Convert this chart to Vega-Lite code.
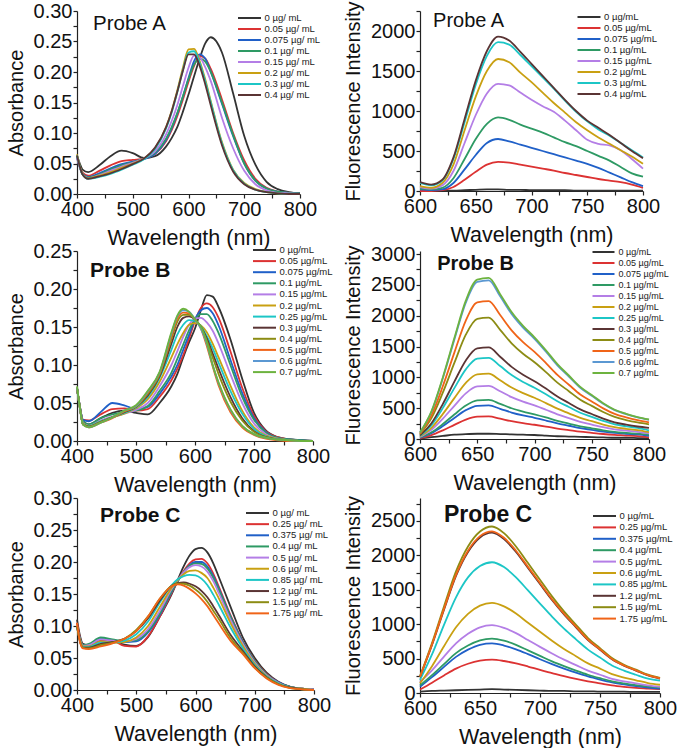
{
"$schema":"https://vega.github.io/schema/vega-lite/v6.json",
"background":"white",
"padding":{"left":6,"top":0,"right":0,"bottom":0},
"config":{
 "font":"Liberation Sans",
 "view":{"stroke":null},
 "axis":{"grid":false,"domainColor":"#222","tickColor":"#222","labelColor":"#111","titleColor":"#111","labelFontSize":20,"titleFontSize":21.5,"titleFontWeight":"normal","tickSize":4,"labelPadding":1,"domainWidth":1.2,"tickWidth":1.2,"labelFlush":false,"labelOverlap":false,"titlePadding":8},
 "axisY":{"titleFontSize":20,"titlePadding":7},
 "legend":{"symbolSize":100,"symbolStrokeWidth":2,"labelOffset":9,"labelFontSize":9.5,"labelColor":"#222","padding":0,"labelLimit":200}
},
"datasets":{
"aA":[
{"x":400,"s0":0.063,"s1":0.06,"s2":0.06,"s3":0.062,"s4":0.06,"s5":0.065,"s6":0.063,"s7":0.063},
{"x":405,"s0":0.05,"s1":0.045,"s2":0.044,"s3":0.045,"s4":0.044,"s5":0.046,"s6":0.045,"s7":0.045},
{"x":410,"s0":0.04,"s1":0.035,"s2":0.033,"s3":0.032,"s4":0.032,"s5":0.033,"s6":0.032,"s7":0.032},
{"x":420,"s0":0.036,"s1":0.03,"s2":0.028,"s3":0.027,"s4":0.026,"s5":0.026,"s6":0.025,"s7":0.025},
{"x":440,"s0":0.047,"s1":0.038,"s2":0.034,"s3":0.032,"s4":0.031,"s5":0.03,"s6":0.028,"s7":0.029},
{"x":460,"s0":0.062,"s1":0.047,"s2":0.042,"s3":0.04,"s4":0.038,"s5":0.036,"s6":0.033,"s7":0.034},
{"x":480,"s0":0.071,"s1":0.054,"s2":0.049,"s3":0.047,"s4":0.045,"s5":0.043,"s6":0.04,"s7":0.041},
{"x":500,"s0":0.067,"s1":0.056,"s2":0.053,"s3":0.052,"s4":0.051,"s5":0.05,"s6":0.048,"s7":0.049},
{"x":520,"s0":0.059,"s1":0.058,"s2":0.057,"s3":0.058,"s4":0.058,"s5":0.058,"s6":0.057,"s7":0.058},
{"x":540,"s0":0.062,"s1":0.066,"s2":0.066,"s3":0.068,"s4":0.07,"s5":0.075,"s6":0.074,"s7":0.076},
{"x":560,"s0":0.078,"s1":0.087,"s2":0.089,"s3":0.091,"s4":0.098,"s5":0.11,"s6":0.108,"s7":0.11},
{"x":570,"s0":0.092,"s1":0.105,"s2":0.108,"s3":0.11,"s4":0.12,"s5":0.137,"s6":0.134,"s7":0.136},
{"x":580,"s0":0.11,"s1":0.128,"s2":0.132,"s3":0.133,"s4":0.146,"s5":0.17,"s6":0.167,"s7":0.168},
{"x":590,"s0":0.135,"s1":0.155,"s2":0.16,"s3":0.16,"s4":0.177,"s5":0.207,"s6":0.203,"s7":0.202},
{"x":600,"s0":0.163,"s1":0.184,"s2":0.19,"s3":0.188,"s4":0.207,"s5":0.237,"s6":0.232,"s7":0.229},
{"x":610,"s0":0.193,"s1":0.21,"s2":0.218,"s3":0.212,"s4":0.227,"s5":0.238,"s6":0.234,"s7":0.229},
{"x":620,"s0":0.222,"s1":0.226,"s2":0.229,"s3":0.222,"s4":0.224,"s5":0.218,"s6":0.215,"s7":0.21},
{"x":630,"s0":0.247,"s1":0.222,"s2":0.222,"s3":0.217,"s4":0.208,"s5":0.188,"s6":0.185,"s7":0.18},
{"x":640,"s0":0.257,"s1":0.205,"s2":0.2,"s3":0.2,"s4":0.185,"s5":0.152,"s6":0.15,"s7":0.145},
{"x":660,"s0":0.232,"s1":0.155,"s2":0.148,"s3":0.15,"s4":0.125,"s5":0.085,"s6":0.083,"s7":0.08},
{"x":680,"s0":0.165,"s1":0.1,"s2":0.095,"s3":0.097,"s4":0.075,"s5":0.04,"s6":0.039,"s7":0.037},
{"x":700,"s0":0.095,"s1":0.055,"s2":0.05,"s3":0.05,"s4":0.038,"s5":0.018,"s6":0.017,"s7":0.016},
{"x":720,"s0":0.048,"s1":0.025,"s2":0.022,"s3":0.022,"s4":0.016,"s5":0.008,"s6":0.007,"s7":0.007},
{"x":740,"s0":0.02,"s1":0.01,"s2":0.009,"s3":0.009,"s4":0.006,"s5":0.003,"s6":0.003,"s7":0.003},
{"x":760,"s0":0.008,"s1":0.004,"s2":0.004,"s3":0.004,"s4":0.002,"s5":0.001,"s6":0.001,"s7":0.001},
{"x":780,"s0":0.003,"s1":0.002,"s2":0.002,"s3":0.002,"s4":0.001,"s5":0,"s6":0,"s7":0},
{"x":800,"s0":0.001,"s1":0.001,"s2":0.001,"s3":0.001,"s4":0,"s5":0,"s6":0,"s7":0}
],
"fA":[
{"x":600,"s0":20,"s1":0,"s2":20,"s3":30,"s4":50,"s5":60,"s6":100,"s7":110},
{"x":610,"s0":10,"s1":0,"s2":10,"s3":20,"s4":30,"s5":40,"s6":70,"s7":80},
{"x":620,"s0":5,"s1":10,"s2":20,"s3":40,"s4":70,"s5":100,"s6":130,"s7":140},
{"x":630,"s0":5,"s1":50,"s2":100,"s3":160,"s4":250,"s5":330,"s6":400,"s7":420},
{"x":640,"s0":10,"s1":140,"s2":270,"s3":400,"s4":600,"s5":760,"s6":860,"s7":900},
{"x":650,"s0":15,"s1":240,"s2":450,"s3":650,"s4":950,"s5":1180,"s6":1330,"s7":1380},
{"x":660,"s0":20,"s1":330,"s2":600,"s3":840,"s4":1220,"s5":1500,"s6":1690,"s7":1750},
{"x":670,"s0":20,"s1":365,"s2":650,"s3":920,"s4":1340,"s5":1650,"s6":1860,"s7":1930},
{"x":680,"s0":15,"s1":355,"s2":620,"s3":890,"s4":1320,"s5":1610,"s6":1830,"s7":1880},
{"x":690,"s0":15,"s1":330,"s2":580,"s3":830,"s4":1230,"s5":1480,"s6":1700,"s7":1740},
{"x":700,"s0":10,"s1":305,"s2":540,"s3":780,"s4":1140,"s5":1360,"s6":1560,"s7":1590},
{"x":710,"s0":10,"s1":280,"s2":500,"s3":730,"s4":1060,"s5":1230,"s6":1420,"s7":1440},
{"x":720,"s0":10,"s1":255,"s2":460,"s3":670,"s4":990,"s5":1100,"s6":1280,"s7":1290},
{"x":730,"s0":10,"s1":225,"s2":420,"s3":610,"s4":880,"s5":980,"s6":1130,"s7":1140},
{"x":740,"s0":5,"s1":200,"s2":380,"s3":560,"s4":760,"s5":860,"s6":990,"s7":1000},
{"x":750,"s0":5,"s1":175,"s2":340,"s3":500,"s4":640,"s5":760,"s6":870,"s7":880},
{"x":760,"s0":5,"s1":150,"s2":290,"s3":440,"s4":590,"s5":670,"s6":770,"s7":790},
{"x":770,"s0":5,"s1":130,"s2":230,"s3":380,"s4":570,"s5":590,"s6":690,"s7":700},
{"x":780,"s0":5,"s1":110,"s2":170,"s3":300,"s4":510,"s5":510,"s6":600,"s7":600},
{"x":790,"s0":5,"s1":80,"s2":110,"s3":220,"s4":400,"s5":430,"s6":510,"s7":500},
{"x":800,"s0":5,"s1":40,"s2":60,"s3":180,"s4":280,"s5":340,"s6":420,"s7":410}
],
"aB":[
{"x":400,"s0":0.07,"s1":0.07,"s2":0.07,"s3":0.07,"s4":0.07,"s5":0.07,"s6":0.07,"s7":0.07,"s8":0.07,"s9":0.07,"s10":0.07,"s11":0.072},
{"x":405,"s0":0.045,"s1":0.045,"s2":0.045,"s3":0.044,"s4":0.044,"s5":0.043,"s6":0.043,"s7":0.043,"s8":0.043,"s9":0.043,"s10":0.043,"s11":0.044},
{"x":410,"s0":0.026,"s1":0.028,"s2":0.028,"s3":0.026,"s4":0.024,"s5":0.023,"s6":0.022,"s7":0.022,"s8":0.022,"s9":0.022,"s10":0.022,"s11":0.022},
{"x":420,"s0":0.022,"s1":0.027,"s2":0.026,"s3":0.022,"s4":0.02,"s5":0.02,"s6":0.02,"s7":0.019,"s8":0.019,"s9":0.018,"s10":0.018,"s11":0.018},
{"x":440,"s0":0.03,"s1":0.035,"s2":0.038,"s3":0.03,"s4":0.027,"s5":0.026,"s6":0.026,"s7":0.025,"s8":0.025,"s9":0.024,"s10":0.024,"s11":0.024},
{"x":460,"s0":0.037,"s1":0.042,"s2":0.05,"s3":0.035,"s4":0.032,"s5":0.031,"s6":0.031,"s7":0.031,"s8":0.031,"s9":0.03,"s10":0.031,"s11":0.031},
{"x":480,"s0":0.04,"s1":0.043,"s2":0.047,"s3":0.038,"s4":0.036,"s5":0.036,"s6":0.037,"s7":0.038,"s8":0.039,"s9":0.039,"s10":0.04,"s11":0.04},
{"x":500,"s0":0.037,"s1":0.04,"s2":0.042,"s3":0.04,"s4":0.041,"s5":0.043,"s6":0.044,"s7":0.045,"s8":0.045,"s9":0.046,"s10":0.046,"s11":0.047},
{"x":520,"s0":0.035,"s1":0.042,"s2":0.045,"s3":0.046,"s4":0.05,"s5":0.055,"s6":0.058,"s7":0.06,"s8":0.062,"s9":0.064,"s10":0.065,"s11":0.066},
{"x":540,"s0":0.05,"s1":0.058,"s2":0.062,"s3":0.066,"s4":0.072,"s5":0.078,"s6":0.083,"s7":0.085,"s8":0.087,"s9":0.089,"s10":0.09,"s11":0.091},
{"x":560,"s0":0.072,"s1":0.08,"s2":0.085,"s3":0.09,"s4":0.1,"s5":0.11,"s6":0.12,"s7":0.128,"s8":0.134,"s9":0.138,"s10":0.141,"s11":0.143},
{"x":570,"s0":0.088,"s1":0.095,"s2":0.1,"s3":0.108,"s4":0.118,"s5":0.127,"s6":0.14,"s7":0.15,"s8":0.157,"s9":0.161,"s10":0.164,"s11":0.165},
{"x":580,"s0":0.11,"s1":0.113,"s2":0.12,"s3":0.127,"s4":0.137,"s5":0.142,"s6":0.153,"s7":0.162,"s8":0.166,"s9":0.169,"s10":0.172,"s11":0.174},
{"x":590,"s0":0.13,"s1":0.135,"s2":0.14,"s3":0.146,"s4":0.153,"s5":0.153,"s6":0.159,"s7":0.164,"s8":0.166,"s9":0.168,"s10":0.17,"s11":0.17},
{"x":600,"s0":0.148,"s1":0.158,"s2":0.16,"s3":0.16,"s4":0.161,"s5":0.155,"s6":0.158,"s7":0.16,"s8":0.16,"s9":0.16,"s10":0.16,"s11":0.16},
{"x":610,"s0":0.172,"s1":0.175,"s2":0.172,"s3":0.167,"s4":0.162,"s5":0.152,"s6":0.151,"s7":0.15,"s8":0.149,"s9":0.148,"s10":0.148,"s11":0.15},
{"x":620,"s0":0.192,"s1":0.181,"s2":0.175,"s3":0.167,"s4":0.156,"s5":0.143,"s6":0.138,"s7":0.135,"s8":0.132,"s9":0.125,"s10":0.128,"s11":0.13},
{"x":630,"s0":0.19,"s1":0.176,"s2":0.168,"s3":0.158,"s4":0.145,"s5":0.128,"s6":0.122,"s7":0.115,"s8":0.11,"s9":0.098,"s10":0.1,"s11":0.1},
{"x":640,"s0":0.176,"s1":0.162,"s2":0.152,"s3":0.142,"s4":0.128,"s5":0.11,"s6":0.103,"s7":0.095,"s8":0.088,"s9":0.073,"s10":0.076,"s11":0.077},
{"x":660,"s0":0.134,"s1":0.118,"s2":0.107,"s3":0.1,"s4":0.088,"s5":0.073,"s6":0.066,"s7":0.058,"s8":0.052,"s9":0.038,"s10":0.041,"s11":0.042},
{"x":680,"s0":0.082,"s1":0.07,"s2":0.063,"s3":0.058,"s4":0.05,"s5":0.04,"s6":0.036,"s7":0.03,"s8":0.027,"s9":0.018,"s10":0.02,"s11":0.02},
{"x":700,"s0":0.037,"s1":0.033,"s2":0.03,"s3":0.028,"s4":0.023,"s5":0.018,"s6":0.016,"s7":0.013,"s8":0.012,"s9":0.008,"s10":0.009,"s11":0.009},
{"x":720,"s0":0.014,"s1":0.013,"s2":0.012,"s3":0.011,"s4":0.009,"s5":0.007,"s6":0.006,"s7":0.005,"s8":0.005,"s9":0.003,"s10":0.004,"s11":0.004},
{"x":740,"s0":0.005,"s1":0.005,"s2":0.004,"s3":0.004,"s4":0.003,"s5":0.003,"s6":0.002,"s7":0.002,"s8":0.002,"s9":0.001,"s10":0.002,"s11":0.002},
{"x":760,"s0":0.002,"s1":0.002,"s2":0.002,"s3":0.002,"s4":0.001,"s5":0.001,"s6":0.001,"s7":0.001,"s8":0.001,"s9":0,"s10":0.001,"s11":0.001},
{"x":780,"s0":0.001,"s1":0.001,"s2":0.001,"s3":0.001,"s4":0,"s5":0,"s6":0,"s7":0,"s8":0,"s9":0,"s10":0,"s11":0},
{"x":800,"s0":0,"s1":0,"s2":0,"s3":0,"s4":0,"s5":0,"s6":0,"s7":0,"s8":0,"s9":0,"s10":0,"s11":0}
],
"fB":[
{"x":600,"s0":10,"s1":15,"s2":22,"s3":26,"s4":35,"s5":43,"s6":53,"s7":60,"s8":80,"s9":90,"s10":104,"s11":106},
{"x":610,"s0":30,"s1":63,"s2":94,"s3":109,"s4":148,"s5":182,"s6":226,"s7":255,"s8":338,"s9":384,"s10":442,"s11":449},
{"x":620,"s0":50,"s1":141,"s2":209,"s3":243,"s4":331,"s5":407,"s6":505,"s7":570,"s8":756,"s9":859,"s10":988,"s11":1003},
{"x":630,"s0":70,"s1":229,"s2":341,"s3":397,"s4":539,"s5":663,"s6":825,"s7":930,"s8":1234,"s9":1401,"s10":1612,"s11":1637},
{"x":640,"s0":80,"s1":315,"s2":468,"s3":544,"s4":740,"s5":910,"s6":1130,"s7":1275,"s8":1692,"s9":1921,"s10":2210,"s11":2244},
{"x":650,"s0":85,"s1":363,"s2":539,"s3":627,"s4":853,"s5":1049,"s6":1303,"s7":1470,"s8":1950,"s9":2215,"s10":2548,"s11":2587},
{"x":660,"s0":85,"s1":366,"s2":545,"s3":634,"s4":861,"s5":1059,"s6":1317,"s7":1485,"s8":1970,"s9":2237,"s10":2574,"s11":2614},
{"x":670,"s0":80,"s1":329,"s2":490,"s3":570,"s4":774,"s5":952,"s6":1184,"s7":1335,"s8":1771,"s9":2011,"s10":2314,"s11":2350},
{"x":680,"s0":75,"s1":289,"s2":429,"s3":499,"s4":679,"s5":835,"s6":1037,"s7":1170,"s8":1552,"s9":1763,"s10":2028,"s11":2059},
{"x":690,"s0":70,"s1":257,"s2":382,"s3":445,"s4":605,"s5":744,"s6":924,"s7":1043,"s8":1383,"s9":1571,"s10":1807,"s11":1835},
{"x":700,"s0":65,"s1":231,"s2":344,"s3":400,"s4":544,"s5":669,"s6":831,"s7":938,"s8":1244,"s9":1413,"s10":1625,"s11":1650},
{"x":710,"s0":55,"s1":202,"s2":300,"s3":349,"s4":474,"s5":583,"s6":725,"s7":818,"s8":1085,"s9":1232,"s10":1417,"s11":1439},
{"x":720,"s0":45,"s1":170,"s2":253,"s3":294,"s4":400,"s5":492,"s6":612,"s7":690,"s8":915,"s9":1040,"s10":1196,"s11":1214},
{"x":730,"s0":40,"s1":144,"s2":215,"s3":250,"s4":339,"s5":417,"s6":519,"s7":585,"s8":776,"s9":881,"s10":1014,"s11":1030},
{"x":740,"s0":35,"s1":118,"s2":176,"s3":205,"s4":278,"s5":342,"s6":426,"s7":480,"s8":637,"s9":723,"s10":832,"s11":845},
{"x":750,"s0":30,"s1":100,"s2":149,"s3":173,"s4":235,"s5":289,"s6":359,"s7":405,"s8":537,"s9":610,"s10":702,"s11":713},
{"x":760,"s0":25,"s1":81,"s2":121,"s3":141,"s4":191,"s5":235,"s6":293,"s7":330,"s8":438,"s9":497,"s10":572,"s11":581},
{"x":770,"s0":20,"s1":67,"s2":99,"s3":115,"s4":157,"s5":193,"s6":239,"s7":270,"s8":358,"s9":407,"s10":468,"s11":475},
{"x":780,"s0":20,"s1":57,"s2":85,"s3":99,"s4":135,"s5":166,"s6":206,"s7":233,"s8":308,"s9":350,"s10":403,"s11":409},
{"x":790,"s0":15,"s1":45,"s2":74,"s3":86,"s4":117,"s5":144,"s6":180,"s7":203,"s8":269,"s9":305,"s10":351,"s11":356},
{"x":800,"s0":10,"s1":25,"s2":50,"s3":70,"s4":90,"s5":110,"s6":140,"s7":180,"s8":239,"s9":271,"s10":312,"s11":317}
],
"aC":[
{"x":400,"s0":0.11,"s1":0.105,"s2":0.1,"s3":0.1,"s4":0.1,"s5":0.1,"s6":0.1,"s7":0.1,"s8":0.1,"s9":0.105},
{"x":405,"s0":0.085,"s1":0.082,"s2":0.08,"s3":0.08,"s4":0.079,"s5":0.078,"s6":0.077,"s7":0.076,"s8":0.076,"s9":0.075},
{"x":410,"s0":0.072,"s1":0.07,"s2":0.07,"s3":0.07,"s4":0.069,"s5":0.068,"s6":0.067,"s7":0.066,"s8":0.066,"s9":0.065},
{"x":420,"s0":0.07,"s1":0.068,"s2":0.07,"s3":0.072,"s4":0.07,"s5":0.068,"s6":0.067,"s7":0.066,"s8":0.065,"s9":0.064},
{"x":440,"s0":0.078,"s1":0.078,"s2":0.08,"s3":0.082,"s4":0.079,"s5":0.076,"s6":0.074,"s7":0.072,"s8":0.07,"s9":0.068},
{"x":460,"s0":0.077,"s1":0.077,"s2":0.078,"s3":0.079,"s4":0.077,"s5":0.074,"s6":0.074,"s7":0.075,"s8":0.074,"s9":0.073},
{"x":480,"s0":0.071,"s1":0.069,"s2":0.075,"s3":0.076,"s4":0.076,"s5":0.075,"s6":0.077,"s7":0.08,"s8":0.08,"s9":0.08},
{"x":500,"s0":0.069,"s1":0.068,"s2":0.076,"s3":0.078,"s4":0.08,"s5":0.082,"s6":0.087,"s7":0.092,"s8":0.094,"s9":0.092},
{"x":520,"s0":0.083,"s1":0.084,"s2":0.09,"s3":0.092,"s4":0.095,"s5":0.1,"s6":0.107,"s7":0.112,"s8":0.115,"s9":0.115},
{"x":540,"s0":0.115,"s1":0.115,"s2":0.118,"s3":0.12,"s4":0.124,"s5":0.13,"s6":0.137,"s7":0.14,"s8":0.143,"s9":0.143},
{"x":560,"s0":0.15,"s1":0.152,"s2":0.154,"s3":0.155,"s4":0.158,"s5":0.16,"s6":0.164,"s7":0.163,"s8":0.163,"s9":0.162},
{"x":570,"s0":0.172,"s1":0.17,"s2":0.17,"s3":0.17,"s4":0.172,"s5":0.172,"s6":0.173,"s7":0.167,"s8":0.166,"s9":0.165},
{"x":580,"s0":0.193,"s1":0.186,"s2":0.184,"s3":0.184,"s4":0.184,"s5":0.181,"s6":0.178,"s7":0.168,"s8":0.166,"s9":0.163},
{"x":590,"s0":0.21,"s1":0.198,"s2":0.195,"s3":0.194,"s4":0.192,"s5":0.186,"s6":0.18,"s7":0.166,"s8":0.163,"s9":0.158},
{"x":600,"s0":0.22,"s1":0.204,"s2":0.2,"s3":0.198,"s4":0.195,"s5":0.187,"s6":0.179,"s7":0.162,"s8":0.157,"s9":0.151},
{"x":610,"s0":0.222,"s1":0.205,"s2":0.2,"s3":0.197,"s4":0.193,"s5":0.183,"s6":0.174,"s7":0.155,"s8":0.149,"s9":0.142},
{"x":620,"s0":0.215,"s1":0.198,"s2":0.193,"s3":0.19,"s4":0.185,"s5":0.175,"s6":0.164,"s7":0.145,"s8":0.138,"s9":0.131},
{"x":630,"s0":0.198,"s1":0.182,"s2":0.178,"s3":0.175,"s4":0.17,"s5":0.16,"s6":0.149,"s7":0.131,"s8":0.124,"s9":0.117},
{"x":640,"s0":0.175,"s1":0.16,"s2":0.157,"s3":0.155,"s4":0.15,"s5":0.142,"s6":0.132,"s7":0.116,"s8":0.11,"s9":0.103},
{"x":660,"s0":0.128,"s1":0.115,"s2":0.113,"s3":0.112,"s4":0.108,"s5":0.103,"s6":0.096,"s7":0.085,"s8":0.08,"s9":0.076},
{"x":680,"s0":0.082,"s1":0.076,"s2":0.075,"s3":0.074,"s4":0.072,"s5":0.069,"s6":0.065,"s7":0.061,"s8":0.058,"s9":0.056},
{"x":700,"s0":0.05,"s1":0.046,"s2":0.045,"s3":0.045,"s4":0.043,"s5":0.041,"s6":0.039,"s7":0.037,"s8":0.035,"s9":0.034},
{"x":720,"s0":0.027,"s1":0.025,"s2":0.024,"s3":0.024,"s4":0.023,"s5":0.022,"s6":0.021,"s7":0.02,"s8":0.019,"s9":0.018},
{"x":740,"s0":0.013,"s1":0.012,"s2":0.012,"s3":0.011,"s4":0.011,"s5":0.01,"s6":0.01,"s7":0.009,"s8":0.009,"s9":0.008},
{"x":760,"s0":0.005,"s1":0.005,"s2":0.005,"s3":0.005,"s4":0.004,"s5":0.004,"s6":0.004,"s7":0.004,"s8":0.003,"s9":0.003},
{"x":780,"s0":0.002,"s1":0.002,"s2":0.002,"s3":0.002,"s4":0.002,"s5":0.002,"s6":0.001,"s7":0.001,"s8":0.001,"s9":0.001},
{"x":800,"s0":0.001,"s1":0.001,"s2":0.001,"s3":0.001,"s4":0.001,"s5":0,"s6":0,"s7":0,"s8":0,"s9":0}
],
"fC":[
{"x":600,"s0":20,"s1":50,"s2":90,"s3":110,"s4":160,"s5":140,"s6":190,"s7":233,"s8":242,"s9":235},
{"x":610,"s0":30,"s1":150,"s2":230,"s3":260,"s4":330,"s5":390,"s6":560,"s7":699,"s8":726,"s9":705},
{"x":620,"s0":35,"s1":255,"s2":380,"s3":420,"s4":530,"s5":680,"s6":990,"s7":1212,"s8":1258,"s9":1222},
{"x":630,"s0":40,"s1":355,"s2":525,"s3":580,"s4":720,"s5":955,"s6":1390,"s7":1701,"s8":1767,"s9":1716},
{"x":640,"s0":45,"s1":425,"s2":630,"s3":690,"s4":860,"s5":1150,"s6":1680,"s7":2050,"s8":2130,"s9":2068},
{"x":650,"s0":50,"s1":470,"s2":700,"s3":765,"s4":955,"s5":1270,"s6":1845,"s7":2260,"s8":2347,"s9":2280},
{"x":660,"s0":55,"s1":485,"s2":720,"s3":790,"s4":985,"s5":1310,"s6":1900,"s7":2330,"s8":2420,"s9":2350},
{"x":670,"s0":50,"s1":465,"s2":690,"s3":760,"s4":945,"s5":1260,"s6":1830,"s7":2237,"s8":2323,"s9":2256},
{"x":680,"s0":45,"s1":430,"s2":635,"s3":700,"s4":870,"s5":1155,"s6":1680,"s7":2050,"s8":2130,"s9":2068},
{"x":690,"s0":40,"s1":385,"s2":565,"s3":620,"s4":770,"s5":1020,"s6":1490,"s7":1817,"s8":1888,"s9":1833},
{"x":700,"s0":35,"s1":335,"s2":490,"s3":540,"s4":670,"s5":890,"s6":1300,"s7":1584,"s8":1646,"s9":1598},
{"x":710,"s0":30,"s1":290,"s2":420,"s3":460,"s4":575,"s5":760,"s6":1110,"s7":1351,"s8":1404,"s9":1363},
{"x":720,"s0":30,"s1":245,"s2":355,"s3":390,"s4":485,"s5":640,"s6":935,"s7":1142,"s8":1186,"s9":1152},
{"x":730,"s0":25,"s1":205,"s2":295,"s3":325,"s4":405,"s5":535,"s6":780,"s7":955,"s8":992,"s9":964},
{"x":740,"s0":25,"s1":170,"s2":240,"s3":265,"s4":325,"s5":430,"s6":630,"s7":769,"s8":799,"s9":776},
{"x":750,"s0":20,"s1":140,"s2":195,"s3":215,"s4":265,"s5":355,"s6":515,"s7":629,"s8":653,"s9":635},
{"x":760,"s0":20,"s1":110,"s2":155,"s3":170,"s4":205,"s5":275,"s6":400,"s7":489,"s8":508,"s9":494},
{"x":770,"s0":20,"s1":90,"s2":125,"s3":140,"s4":170,"s5":225,"s6":325,"s7":396,"s8":411,"s9":400},
{"x":780,"s0":15,"s1":75,"s2":100,"s3":115,"s4":140,"s5":185,"s6":265,"s7":326,"s8":339,"s9":329},
{"x":790,"s0":15,"s1":65,"s2":80,"s3":95,"s4":110,"s5":145,"s6":210,"s7":256,"s8":266,"s9":259},
{"x":800,"s0":15,"s1":55,"s2":65,"s3":80,"s4":90,"s5":120,"s6":180,"s7":210,"s8":218,"s9":212}
]
},
"columns":2,
"spacing":{"row":57,"column":106},
"bounds":"flush",
"resolve":{"scale":{"color":"independent","x":"independent","y":"independent"},"legend":{"color":"independent"}},
"concat":[
 {"width":223,"height":183,
  "layer":[
   {"data":{"name":"aA"},"transform":[{"fold":["s0","s1","s2","s3","s4","s5","s6","s7"],"as":["k","v"]}],
    "mark":{"type":"line","strokeWidth":1.8,"interpolate":"monotone"},
    "encoding":{
     "x":{"field":"x","type":"quantitative","title":"Wavelength (nm)","scale":{"domain":[400,800],"nice":false,"zero":false},"axis":{"values":[400,450,500,550,600,650,700,750,800],"tickCount":40,"labelOverlap":false,"labelExpr":"datum.value % 100 == 0 ? format(datum.value,'d') : ''"}},
     "y":{"field":"v","type":"quantitative","title":"Absorbance","scale":{"domain":[0,0.3],"nice":false},"axis":{"values":[0,0.025,0.05,0.075,0.1,0.125,0.15,0.175,0.2,0.225,0.25,0.275,0.3],"tickCount":40,"labelOverlap":false,"labelExpr":"indexof([0,0.05,0.1,0.15,0.2,0.25,0.3], datum.value) >= 0 ? format(datum.value,'.2f') : ''"}},
     "color":{"field":"k","type":"nominal","scale":{"domain":["s0","s1","s2","s3","s4","s5","s6","s7"],"range":["#333333","#dc3232","#2060c8","#2e9a64","#b47ee6","#c9a012","#1cc6c6","#5a3434"]},
      "legend":{"orient":"none","legendX":166.5,"legendY":1,"title":null,"symbolType":"M-2.3,0H2.3","rowPadding":-0.3,
       "labelExpr":"['0 µg/ mL','0.05 µg/ mL','0.075 µg/ mL','0.1 µg/ mL','0.15 µg/ mL','0.2 µg/ mL','0.3 µg/ mL','0.4 µg/ mL'][toNumber(slice(datum.label,1))]"}}}},
   {"data":{"values":[{}]},"mark":{"type":"text","align":"left","baseline":"alphabetic","fontSize":20.5,"color":"#111"},
    "encoding":{"x":{"datum":428.7,"type":"quantitative"},"y":{"datum":0.269,"type":"quantitative"},"text":{"value":"Probe A"}}}
  ]},
 {"width":223,"height":180,
  "layer":[
   {"data":{"name":"fA"},"transform":[{"fold":["s0","s1","s2","s3","s4","s5","s6","s7"],"as":["k","v"]}],
    "mark":{"type":"line","strokeWidth":1.8,"interpolate":"monotone"},
    "encoding":{
     "x":{"field":"x","type":"quantitative","title":"Wavelength (nm)","scale":{"domain":[600,800],"nice":false,"zero":false},"axis":{"values":[600,625,650,675,700,725,750,775,800],"tickCount":40,"labelOverlap":false,"labelExpr":"datum.value % 50 == 0 ? format(datum.value,'d') : ''"}},
     "y":{"field":"v","type":"quantitative","title":"Fluorescence Intensity","scale":{"domain":[0,2250],"nice":false},"axis":{"values":[0,250,500,750,1000,1250,1500,1750,2000,2250],"tickCount":40,"labelOverlap":false,"labelExpr":"datum.value % 500 == 0 ? format(datum.value,'d') : ''"}},
     "color":{"field":"k","type":"nominal","scale":{"domain":["s0","s1","s2","s3","s4","s5","s6","s7"],"range":["#333333","#dc3232","#2060c8","#2e9a64","#b47ee6","#c9a012","#1cc6c6","#5a3434"]},
      "legend":{"orient":"none","legendX":163,"legendY":0,"title":null,"symbolType":"M-2.3,0H2.3","rowPadding":-0.2,
       "labelExpr":"['0 µg/mL','0.05 µg/mL','0.075 µg/mL','0.1 µg/mL','0.15 µg/mL','0.2 µg/mL','0.3 µg/mL','0.4 µg/mL'][toNumber(slice(datum.label,1))]"}}}},
   {"data":{"values":[{}]},"mark":{"type":"text","align":"left","baseline":"alphabetic","fontSize":20,"color":"#111"},
    "encoding":{"x":{"datum":611.7,"type":"quantitative"},"y":{"datum":2050,"type":"quantitative"},"text":{"value":"Probe A"}}}
  ]},
 {"width":236,"height":190,
  "layer":[
   {"data":{"name":"aB"},"transform":[{"fold":["s0","s1","s2","s3","s4","s5","s6","s7","s8","s9","s10","s11"],"as":["k","v"]}],
    "mark":{"type":"line","strokeWidth":1.8,"interpolate":"monotone"},
    "encoding":{
     "x":{"field":"x","type":"quantitative","title":"Wavelength (nm)","scale":{"domain":[400,800],"nice":false,"zero":false},"axis":{"values":[400,450,500,550,600,650,700,750,800],"tickCount":40,"labelOverlap":false,"labelExpr":"datum.value % 100 == 0 ? format(datum.value,'d') : ''"}},
     "y":{"field":"v","type":"quantitative","title":"Absorbance","scale":{"domain":[0,0.25],"nice":false},"axis":{"values":[0,0.025,0.05,0.075,0.1,0.125,0.15,0.175,0.2,0.225,0.25],"tickCount":40,"labelOverlap":false,"labelExpr":"indexof([0,0.05,0.1,0.15,0.2,0.25], datum.value) >= 0 ? format(datum.value,'.2f') : ''"}},
     "color":{"field":"k","type":"nominal","scale":{"domain":["s0","s1","s2","s3","s4","s5","s6","s7","s8","s9","s10","s11"],"range":["#333333","#dc3232","#2060c8","#2e9a64","#b47ee6","#c9a012","#1cc6c6","#5a3434","#8c8c14","#f06418","#5b98d2","#6db33f"]},
      "legend":{"orient":"none","legendX":181.5,"legendY":-7,"title":null,"symbolType":"M-2.3,0H2.3","rowPadding":0.1,
       "labelExpr":"['0 µg/mL','0.05 µg/mL','0.075 µg/mL','0.1 µg/mL','0.15 µg/mL','0.2 µg/mL','0.25 µg/mL','0.3 µg/mL','0.4 µg/mL','0.5 µg/mL','0.6 µg/mL','0.7 µg/mL'][toNumber(slice(datum.label,1))]"}}}},
   {"data":{"values":[{}]},"mark":{"type":"text","align":"left","baseline":"alphabetic","fontSize":21,"fontWeight":"bold","color":"#111"},
    "encoding":{"x":{"datum":422,"type":"quantitative"},"y":{"datum":0.216,"type":"quantitative"},"text":{"value":"Probe B"}}}
  ]},
 {"width":229,"height":188,
  "layer":[
   {"data":{"name":"fB"},"transform":[{"fold":["s0","s1","s2","s3","s4","s5","s6","s7","s8","s9","s10","s11"],"as":["k","v"]}],
    "mark":{"type":"line","strokeWidth":1.8,"interpolate":"monotone"},
    "encoding":{
     "x":{"field":"x","type":"quantitative","title":"Wavelength (nm)","scale":{"domain":[600,800],"nice":false,"zero":false},"axis":{"values":[600,625,650,675,700,725,750,775,800],"tickCount":40,"labelOverlap":false,"labelExpr":"datum.value % 50 == 0 ? format(datum.value,'d') : ''"}},
     "y":{"field":"v","type":"quantitative","title":"Fluorescence Intensity","scale":{"domain":[0,3050],"nice":false},"axis":{"values":[0,250,500,750,1000,1250,1500,1750,2000,2250,2500,2750,3000],"tickCount":40,"labelOverlap":false,"labelExpr":"datum.value % 500 == 0 ? format(datum.value,'d') : ''"}},
     "color":{"field":"k","type":"nominal","scale":{"domain":["s0","s1","s2","s3","s4","s5","s6","s7","s8","s9","s10","s11"],"range":["#333333","#dc3232","#2060c8","#2e9a64","#b47ee6","#c9a012","#1cc6c6","#5a3434","#8c8c14","#f06418","#5b98d2","#6db33f"]},
      "legend":{"orient":"none","legendX":177.5,"legendY":-5,"title":null,"symbolType":"M-2.2,0H2.2","rowPadding":-0.94,"labelFontSize":9,
       "labelExpr":"['0 µg/mL','0.05 µg/mL','0.075 µg/mL','0.1 µg/mL','0.15 µg/mL','0.2 µg/mL','0.25 µg/mL','0.3 µg/mL','0.4 µg/mL','0.5 µg/mL','0.6 µg/mL','0.7 µg/mL'][toNumber(slice(datum.label,1))]"}}}},
   {"data":{"values":[{}]},"mark":{"type":"text","align":"left","baseline":"alphabetic","fontSize":20,"fontWeight":"bold","color":"#111"},
    "encoding":{"x":{"datum":615,"type":"quantitative"},"y":{"datum":2742,"type":"quantitative"},"text":{"value":"Probe B"}}}
  ]},
 {"width":237,"height":192,
  "layer":[
   {"data":{"name":"aC"},"transform":[{"fold":["s0","s1","s2","s3","s4","s5","s6","s7","s8","s9"],"as":["k","v"]}],
    "mark":{"type":"line","strokeWidth":1.8,"interpolate":"monotone"},
    "encoding":{
     "x":{"field":"x","type":"quantitative","title":"Wavelength (nm)","scale":{"domain":[400,800],"nice":false,"zero":false},"axis":{"values":[400,450,500,550,600,650,700,750,800],"tickCount":40,"labelOverlap":false,"labelExpr":"datum.value % 100 == 0 ? format(datum.value,'d') : ''"}},
     "y":{"field":"v","type":"quantitative","title":"Absorbance","scale":{"domain":[0,0.3],"nice":false},"axis":{"values":[0,0.025,0.05,0.075,0.1,0.125,0.15,0.175,0.2,0.225,0.25,0.275,0.3],"tickCount":40,"labelOverlap":false,"labelExpr":"indexof([0,0.05,0.1,0.15,0.2,0.25,0.3], datum.value) >= 0 ? format(datum.value,'.2f') : ''"}},
     "color":{"field":"k","type":"nominal","scale":{"domain":["s0","s1","s2","s3","s4","s5","s6","s7","s8","s9"],"range":["#333333","#dc3232","#2060c8","#2e9a64","#b47ee6","#c9a012","#1cc6c6","#5a3434","#8c8c14","#f06418"]},
      "legend":{"orient":"none","legendX":174.5,"legendY":9,"title":null,"symbolType":"M-2.3,0H2.3","rowPadding":0.15,
       "labelExpr":"['0 µg/ mL','0.25 µg/ mL','0.375 µg/ mL','0.4 µg/ mL','0.5 µg/ mL','0.6 µg/ mL','0.85 µg/ mL','1.2 µg/ mL','1.5 µg/ mL','1.75 µg/ mL'][toNumber(slice(datum.label,1))]"}}}},
   {"data":{"values":[{}]},"mark":{"type":"text","align":"left","baseline":"alphabetic","fontSize":21,"fontWeight":"bold","color":"#111"},
    "encoding":{"x":{"datum":438.8,"type":"quantitative"},"y":{"datum":0.2625,"type":"quantitative"},"text":{"value":"Probe C"}}}
  ]},
 {"width":240,"height":195,
  "layer":[
   {"data":{"name":"fC"},"transform":[{"fold":["s0","s1","s2","s3","s4","s5","s6","s7","s8","s9"],"as":["k","v"]}],
    "mark":{"type":"line","strokeWidth":1.8,"interpolate":"monotone"},
    "encoding":{
     "x":{"field":"x","type":"quantitative","title":"Wavelength (nm)","scale":{"domain":[600,800],"nice":false,"zero":false},"axis":{"values":[600,625,650,675,700,725,750,775,800],"tickCount":40,"labelOverlap":false,"labelExpr":"datum.value % 50 == 0 ? format(datum.value,'d') : ''"}},
     "y":{"field":"v","type":"quantitative","title":"Fluorescence Intensity","scale":{"domain":[0,2834],"nice":false},"axis":{"values":[0,250,500,750,1000,1250,1500,1750,2000,2250,2500,2750],"tickCount":40,"labelOverlap":false,"labelExpr":"datum.value % 500 == 0 ? format(datum.value,'d') : ''"}},
     "color":{"field":"k","type":"nominal","scale":{"domain":["s0","s1","s2","s3","s4","s5","s6","s7","s8","s9"],"range":["#333333","#dc3232","#2060c8","#2e9a64","#b47ee6","#c9a012","#1cc6c6","#5a3434","#8c8c14","#f06418"]},
      "legend":{"orient":"none","legendX":178.5,"legendY":12,"title":null,"symbolType":"M-2.3,0H2.3","rowPadding":0.4,
       "labelExpr":"['0 µg/mL','0.25 µg/mL','0.375 µg/mL','0.4 µg/mL','0.5 µg/mL','0.6 µg/mL','0.85 µg/mL','1.2 µg/mL','1.5 µg/mL','1.75 µg/mL'][toNumber(slice(datum.label,1))]"}}}},
   {"data":{"values":[{}]},"mark":{"type":"text","align":"left","baseline":"alphabetic","fontSize":23,"fontWeight":"bold","color":"#111"},
    "encoding":{"x":{"datum":620,"type":"quantitative"},"y":{"datum":2485,"type":"quantitative"},"text":{"value":"Probe C"}}}
  ]}
]
}
